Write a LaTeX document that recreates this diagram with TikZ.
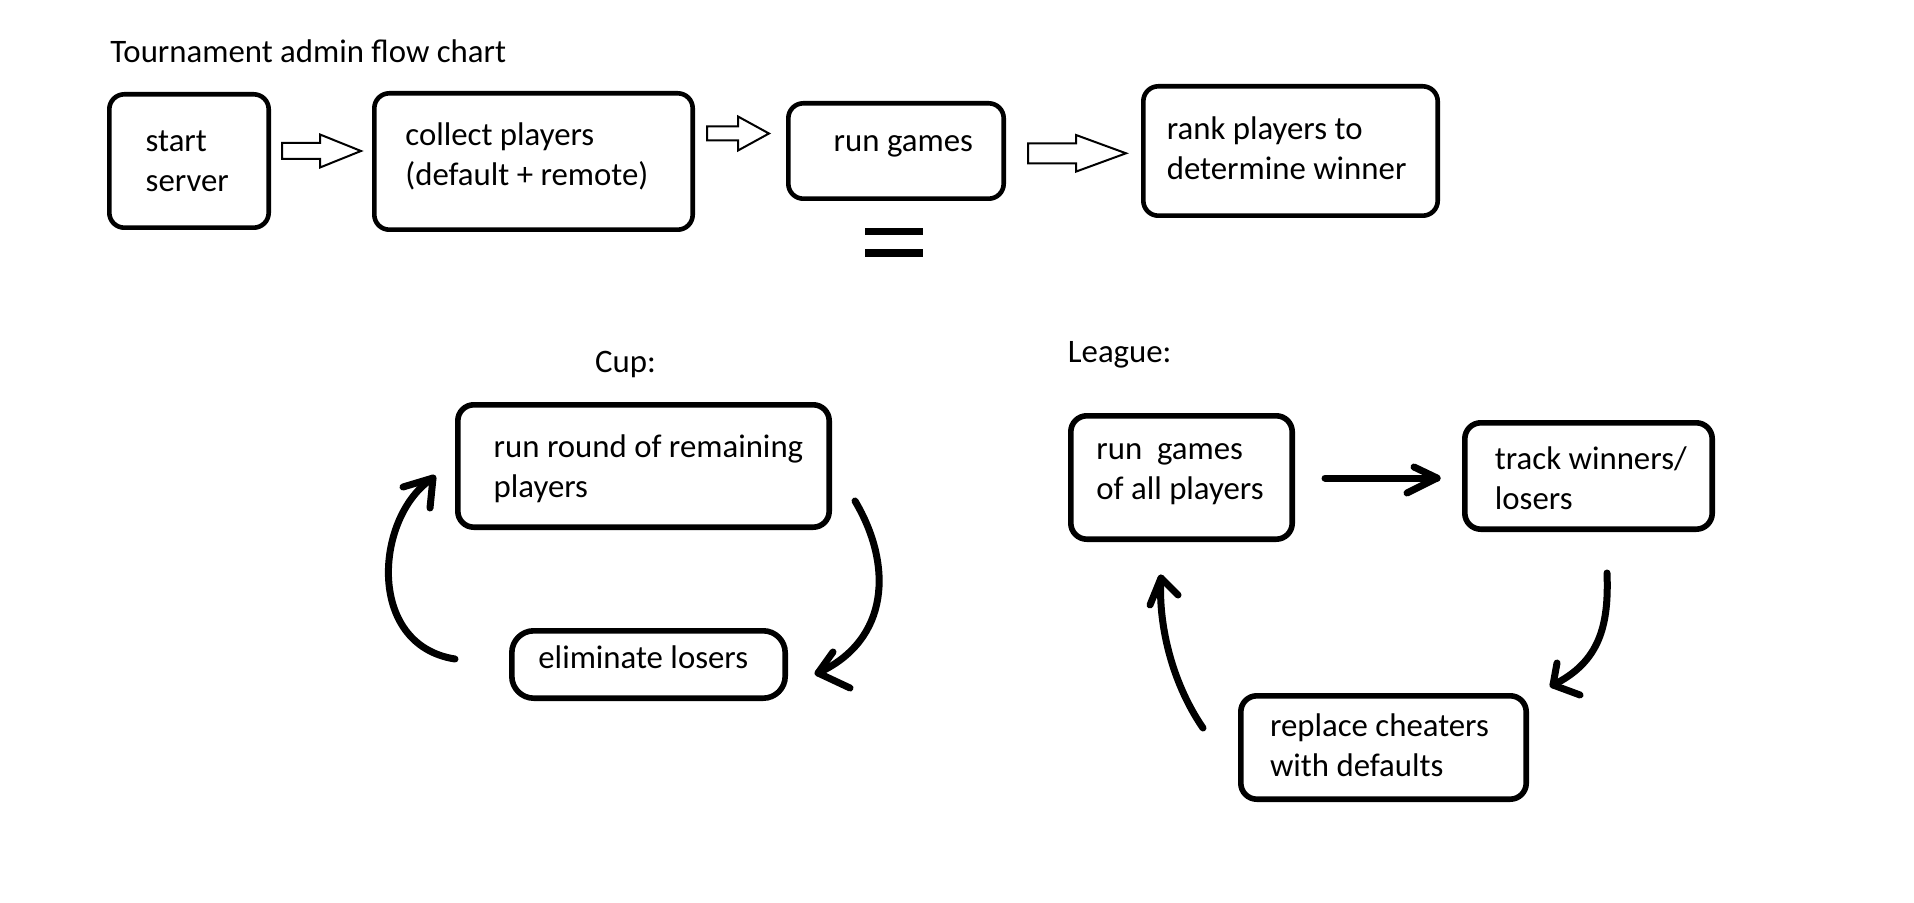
\documentclass[tikz,border=0pt]{standalone}
\usepackage{fontspec}
\setmainfont{Carlito}
\usetikzlibrary{calc}
\begin{document}
\begin{tikzpicture}[x=0.5pt,y=-0.5pt,
  every node/.style={font=\fontsize{16.4pt}{20pt}\selectfont},
  topbox/.style={draw, line width=2.3pt, rounded corners=7.5pt, inner sep=0pt},
  lowbox/.style={draw, line width=2.8pt, rounded corners=8pt, inner sep=0pt},
  txt/.style={anchor=base west, align=left, inner sep=0pt, yshift=-1pt},
  hollow/.style={draw, line width=1pt, miter limit=10},
  hand/.style={line width=3.5pt, line cap=round, line join=round},
  eqbar/.style={line width=3.75pt}]
\useasboundingbox (0,0) rectangle (1914,903);

% ---------- top row ----------
% (for two-line texts the anchor is the baseline of the last line)
\node[txt] (title) at (110,61) {Tournament admin flow chart};

\node[topbox, minimum width=79.7pt, minimum height=66.7pt] (b1) at (189,161) {};
\node[txt] (b1t) at (145.3,189.7) {start\\server};

\node[topbox, minimum width=159.2pt, minimum height=68.2pt] (b2) at (533.5,161.5) {};
\node[txt] (b2t) at (405,183.3) {collect players\\(default + remote)};

\node[topbox, minimum width=107.7pt, minimum height=47.7pt] (b3) at (896,151) {};
\node[txt] (b3t) at (833.3,150) {run games};

\node[topbox, minimum width=147.2pt, minimum height=64.7pt] (b4) at (1290.5,151) {};
\node[txt] (b4t) at (1166.4,177.7) {rank players to\\determine winner};

% hollow block arrows
\newcommand\hollowarrow[6]{%
  \draw[hollow] (#1,#4-#5) -- (#2,#4-#5) -- (#2,#4-#6) -- (#3,#4)
    -- (#2,#4+#6) -- (#2,#4+#5) -- (#1,#4+#5) -- cycle;}
\hollowarrow{282}{320}{361}{151}{8}{16.5}
\hollowarrow{707}{738}{769}{133.5}{7}{17}
\hollowarrow{1028}{1076}{1126}{153.3}{10}{18.3}

% equals sign
\draw[eqbar] (865,231.3) -- (922.7,231.3);
\draw[eqbar] (865,252.8) -- (922.7,252.8);

% ---------- Cup ----------
\node[txt] (cup) at (594.7,370) {Cup:};

\node[lowbox, minimum width=185.7pt, minimum height=61.2pt] (c1) at (643.5,466) {};
\node[txt] (c1t) at (493.3,495.8) {run round of remaining\\players};

\node[lowbox, rounded corners=11pt, minimum width=136.7pt, minimum height=33.7pt] (c2) at (648.5,664.5) {};
\node[txt] (c2t) at (538,666.6) {eliminate losers};

\coordinate (crs) at (855,501);
\coordinate (cre) at (818,673);
\draw[hand] (crs) .. controls (893,565) and (890,640) .. (cre);
\draw[hand] ($(cre)+(15,-21)$) -- (cre) -- ($(cre)+(32,15)$);

\coordinate (cls) at (455,659);
\coordinate (cle) at (433,478);
\draw[hand] (cls) .. controls (365,645) and (375,515) .. (cle);
\draw[hand] ($(cle)+(-30,9)$) -- (cle) -- ($(cle)+(-3,30)$);

% ---------- League ----------
\node[txt] (league) at (1067.5,361) {League:};

\node[lowbox, minimum width=110.7pt, minimum height=61.7pt] (l1) at (1181.5,477.5) {};
\node[txt] (l1t) at (1096,497.7) {run\ \ games\\of all players};

\node[lowbox, minimum width=123.7pt, minimum height=53.2pt] (l2) at (1588.5,476) {};
\node[txt] (l2t) at (1494.5,507.3) {track winners/\\losers};

\node[lowbox, minimum width=142.7pt, minimum height=51.7pt] (l3) at (1383.5,747.5) {};
\node[txt] (l3t) at (1269.6,774.3) {replace cheaters\\with defaults};

\coordinate (lss) at (1325,478);
\coordinate (lse) at (1437,478);
\draw[hand] (lss) -- (lse);
\draw[hand] ($(lse)+(-23,-11)$) -- (lse) -- ($(lse)+(-30,15)$);

\coordinate (lrs) at (1607,573);
\coordinate (lre) at (1553,685);
\draw[hand] (lrs) .. controls (1609,625) and (1600,662) .. (lre);
\draw[hand] ($(lre)+(4,-22)$) -- (lre) -- ($(lre)+(27,10)$);

\coordinate (lls) at (1203,728);
\coordinate (lle) at (1161,578);
\draw[hand] (lls) .. controls (1170,680) and (1158,620) .. (lle);
\draw[hand] ($(lle)+(-11,27)$) -- (lle) -- ($(lle)+(17,17)$);
\end{tikzpicture}
\end{document}
